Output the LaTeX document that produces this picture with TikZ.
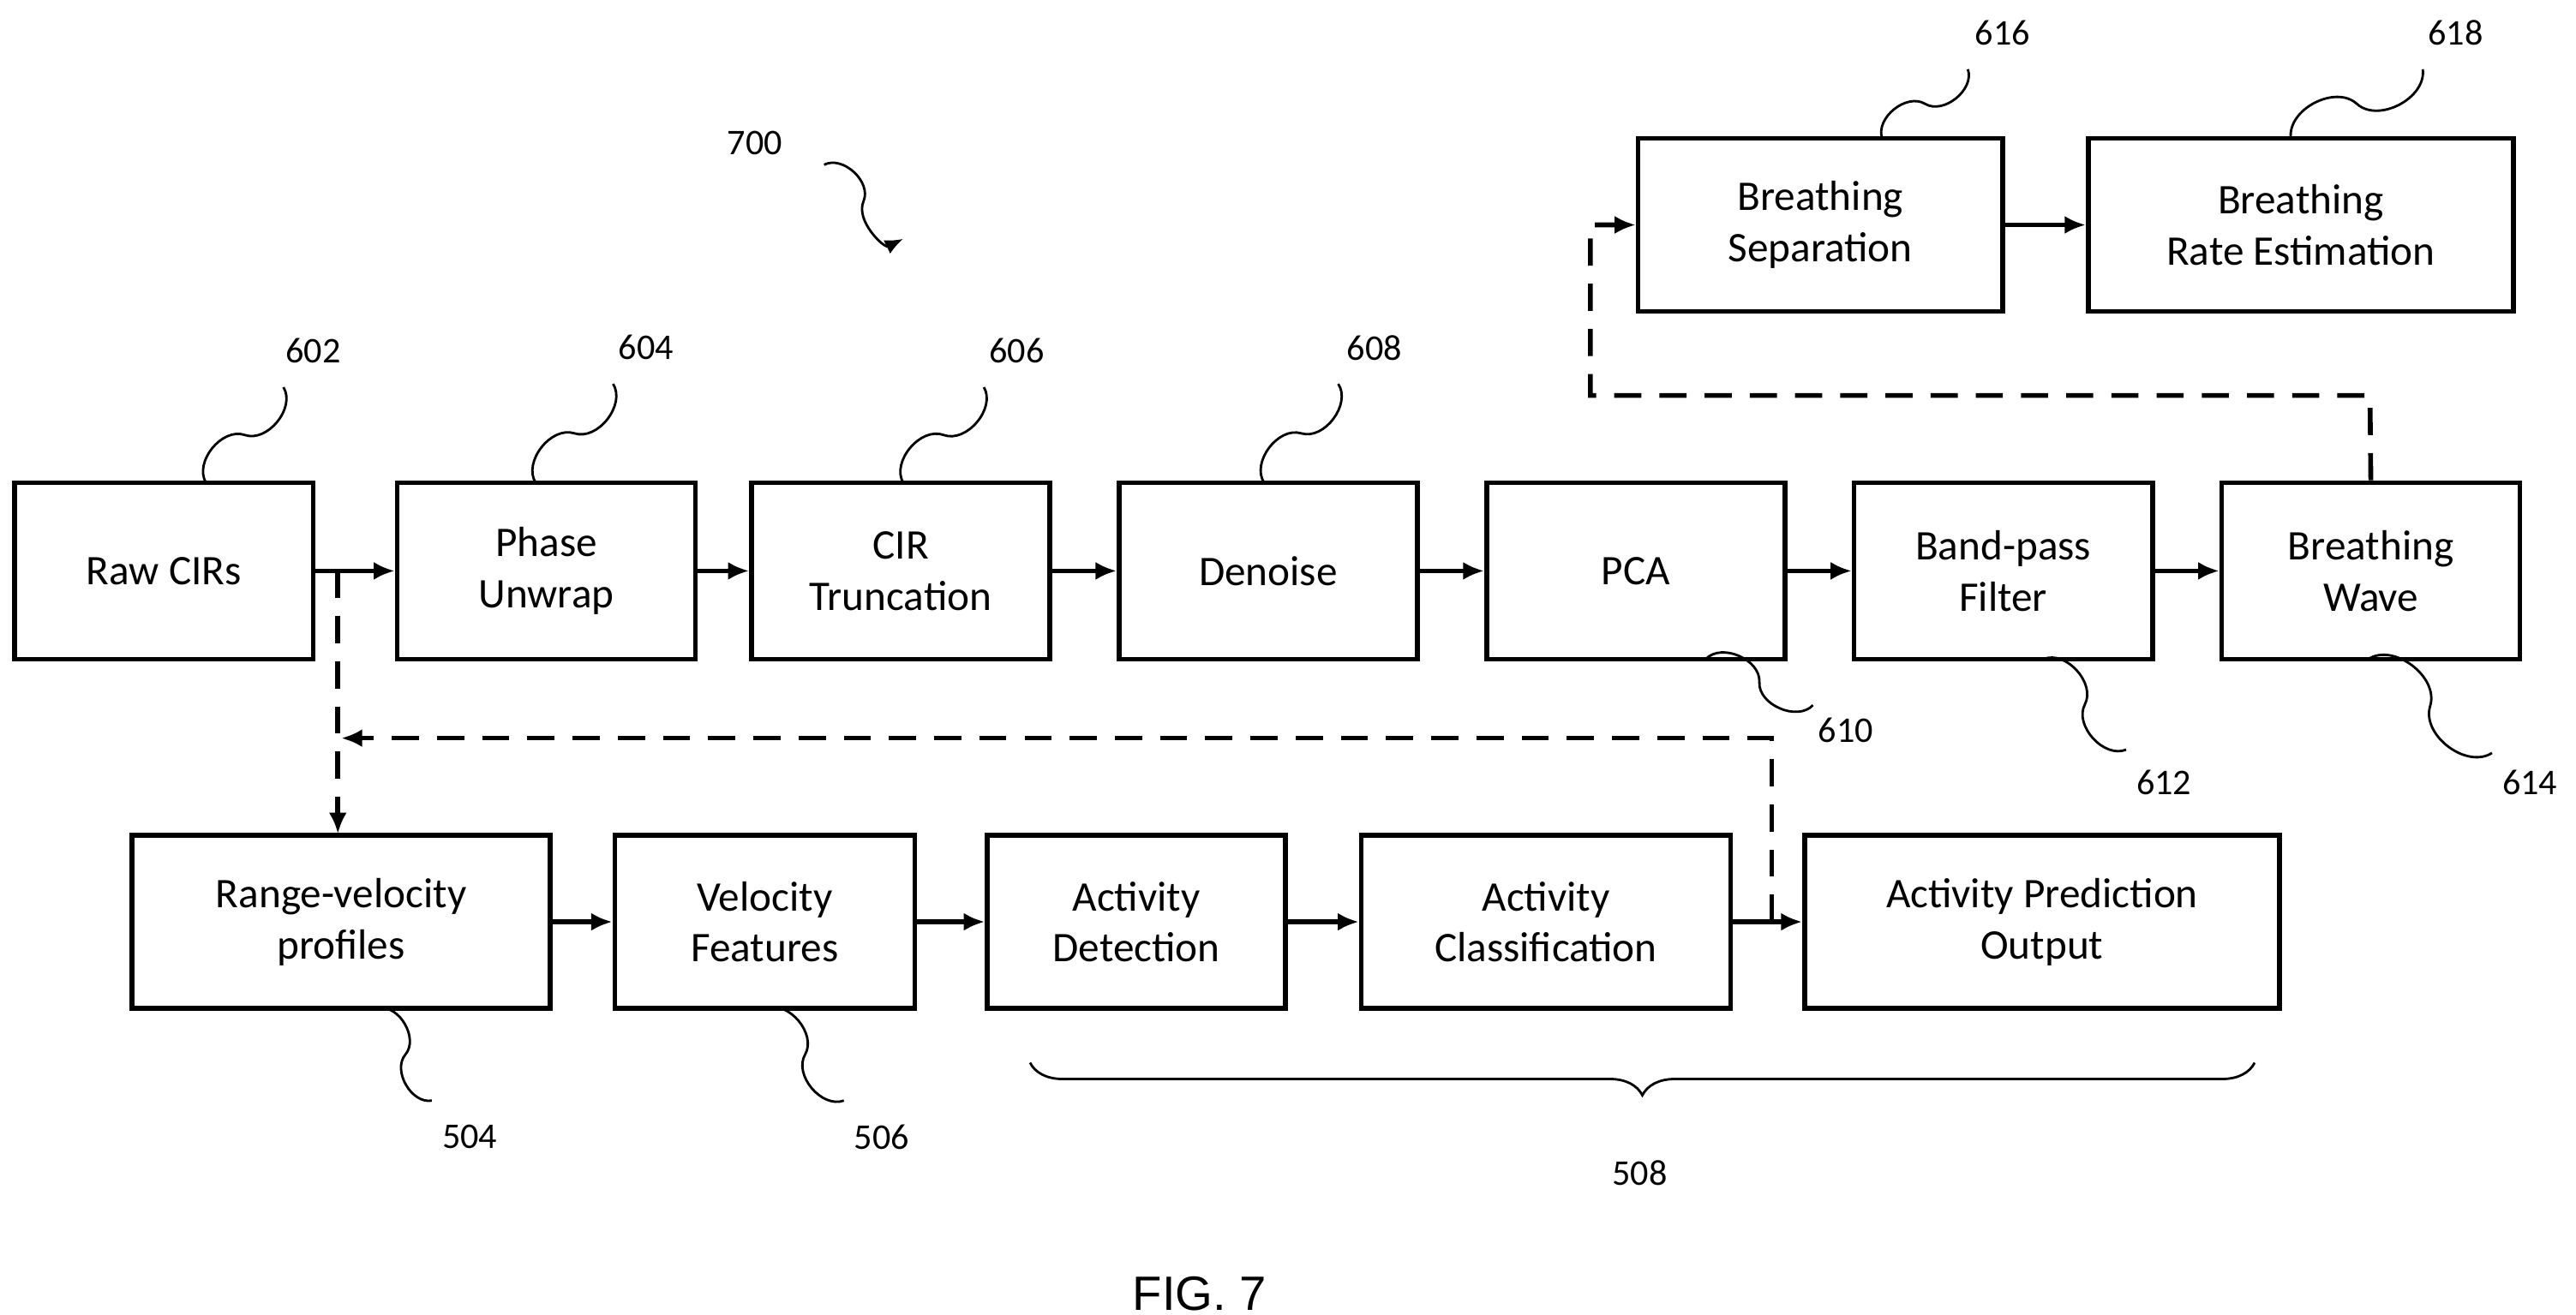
\documentclass[tikz,border=0pt]{standalone}
\usepackage{fontspec}
\setmainfont{Carlito}
\newfontfamily\figfont{Liberation Sans}
\usetikzlibrary{arrows.meta,decorations.pathreplacing}
\begin{document}
\begin{tikzpicture}[x=0.01923cm,y=-0.01923cm,
  box/.style={draw,line width=1.6pt,inner sep=0pt,align=center,font=\fontsize{14}{17}\selectfont,minimum height=2.06cm},
  arr/.style={line width=1.6pt,-{Latex[length=7pt,width=6pt]}},
  darr/.style={arr,dash pattern=on 9pt off 6pt},
  lead/.style={line width=0.8pt},
  lbl/.style={font=\fontsize{12}{14}\selectfont}]
\useasboundingbox (0,0) rectangle (1563,798);
\node[box,minimum width=3.48cm] (raw) at (99.5,346.5) {Raw CIRs};
\node[box,minimum width=3.48cm] (phase) at (331.5,346.5) {Phase\\Unwrap};
\node[box,minimum width=3.48cm] (trunc) at (546.5,346.5) {CIR\\Truncation};
\node[box,minimum width=3.48cm] (den) at (769.5,346.5) {Denoise};
\node[box,minimum width=3.48cm] (pca) at (992.5,346.5) {PCA};
\node[box,minimum width=3.48cm] (bp) at (1215.5,346.5) {Band-pass\\Filter};
\node[box,minimum width=3.48cm] (bw) at (1438.5,346.5) {Breathing\\Wave};
\node[box,minimum width=4.25cm,minimum height=2.02cm] (sep) at (1104.5,136.5) {Breathing\\Separation};
\node[box,minimum width=4.96cm,minimum height=2.02cm] (rate) at (1396,136.5) {Breathing\\Rate Estimation};
\node[box,minimum width=4.88cm,minimum height=2.02cm] (rv) at (207,559.5) {Range-velocity\\profiles};
\node[box,minimum width=3.50cm,minimum height=2.02cm] (vf) at (464,559.5) {Velocity\\Features};
\node[box,minimum width=3.48cm,minimum height=2.02cm] (ad) at (689.5,559.5) {Activity\\Detection};
\node[box,minimum width=4.31cm,minimum height=2.02cm] (ac) at (938,559.5) {Activity\\Classification};
\node[box,minimum width=5.54cm,minimum height=2.02cm] (apo) at (1239,559.5) {Activity Prediction\\Output};
% solid arrows
\draw[arr] (raw) -- (phase);
\draw[arr] (phase) -- (trunc);
\draw[arr] (trunc) -- (den);
\draw[arr] (den) -- (pca);
\draw[arr] (pca) -- (bp);
\draw[arr] (bp) -- (bw);
\draw[arr] (sep) -- (rate);
\draw[arr] (rv) -- (vf);
\draw[arr] (vf) -- (ad);
\draw[arr] (ad) -- (ac);
\draw[arr] (ac) -- (apo);
% dashed
\coordinate (d1) at (205,346.5);
\draw[darr] (d1) -- (205,506);
\coordinate (d2) at (1075,559.5);
\draw[darr] (d2) -- (1075,448) -- (207,448);
\draw[darr] (bw.north) -- (1438,240) -- (965,240) -- (965,136.5) -- (sep.west);
% labels
\node[lbl] (l602) at (190,213) {602};
\node[lbl] (l604) at (392,211) {604};
\node[lbl] (l606) at (617,213) {606};
\node[lbl] (l608) at (834,211) {608};
\node[lbl] (l610) at (1120,443) {610};
\node[lbl] (l612) at (1313,475) {612};
\node[lbl] (l614) at (1535,475) {614};
\node[lbl] (l616) at (1215,20) {616};
\node[lbl] (l618) at (1490,20) {618};
\node[lbl] (l504) at (285,690) {504};
\node[lbl] (l506) at (535,690) {506};
\node[lbl] (l508) at (995,712) {508};
\node[lbl] (l700) at (458,87) {700};
% leaders
\draw[lead] (172,235) to[bend left=70] (148.5,264) to[bend right=70] (125,293);
\draw[lead] (372,233) to[bend left=70] (348.5,263) to[bend right=70] (325,293);
\draw[lead] (597,235) to[bend left=70] (572.5,264) to[bend right=70] (548,293);
\draw[lead] (812,233) to[bend left=70] (789.5,263) to[bend right=70] (767,293);
\draw[lead] (1194,42) to[bend left=70] (1168,63) to[bend right=70] (1142,84);
\draw[lead] (1470,42) to[bend left=70] (1430,63) to[bend right=70] (1390,84);
\draw[lead] (1035,400) to[bend left=70] (1067.5,414) to[bend right=70] (1100,428);
\draw[lead] (1240,400) to[bend left=70] (1265,427.5) to[bend right=70] (1290,455);
\draw[lead] (1437,400) to[bend left=70] (1474.5,428.5) to[bend right=70] (1512,457);
\draw[lead] (230,612) to[bend left=70] (246,640) to[bend right=70] (262,668);
\draw[lead] (465,612) to[bend left=70] (488.5,640) to[bend right=70] (512,668);
\draw[lead,-{Latex[length=6pt,width=5pt]}] (500,100) to[bend left=70] (524,122) to[bend right=70] (548,145);
\draw[line width=0.8pt,decorate,decoration={brace,mirror,amplitude=0.38cm}] (625,645) -- (1368,645);
\node[font=\figfont\fontsize{16}{19}\selectfont] (fig) at (728,785) {FIG. 7};
\end{tikzpicture}
\end{document}
